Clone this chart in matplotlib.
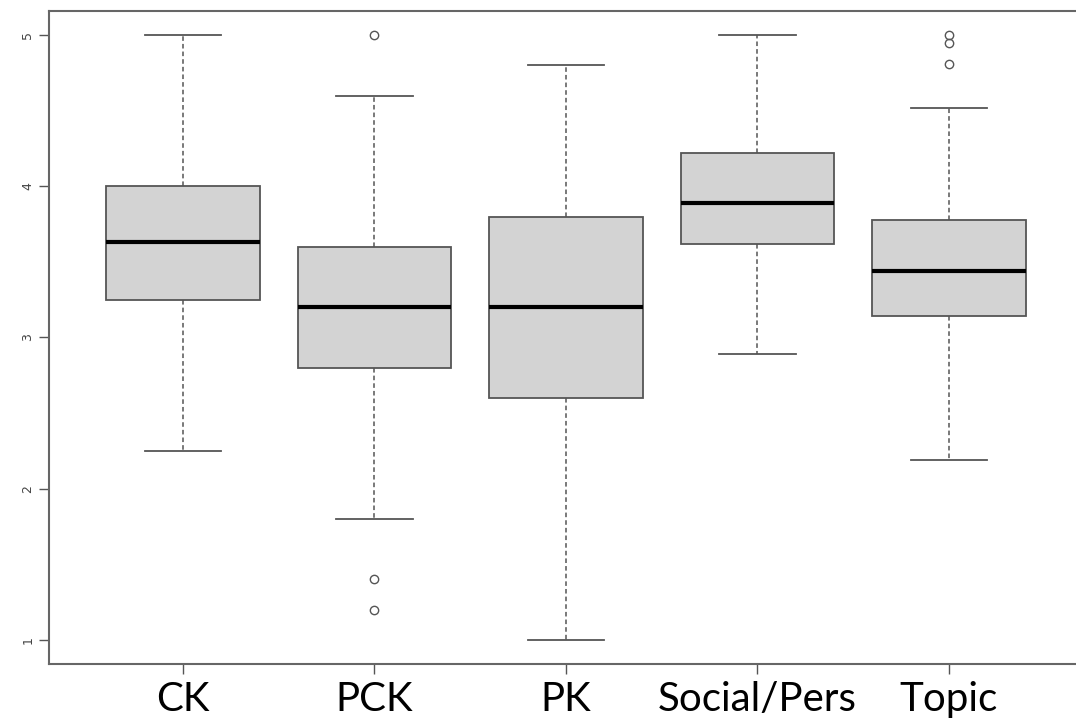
import matplotlib
matplotlib.use('Agg')
import matplotlib.pyplot as plt

categories = ['CK', 'PCK', 'PK', 'Social/Pers', 'Topic']
whislo = [2.25, 1.8, 1.0, 2.89, 2.19]
q1 = [3.25, 2.8, 2.6, 3.62, 3.14]
med = [3.63, 3.2, 3.2, 3.89, 3.44]
q3 = [4.0, 3.6, 3.8, 4.22, 3.78]
whishi = [5.0, 4.6, 4.8, 5.0, 4.52]
fliers = [[], [5.0, 1.4, 1.2], [], [], [5.0, 4.95, 4.81]]

stats = []
for i, name in enumerate(categories):
    stats.append(dict(label=name, whislo=whislo[i], q1=q1[i], med=med[i],
                      q3=q3[i], whishi=whishi[i], fliers=fliers[i]))

fig = plt.figure(figsize=(10.76, 7.22), dpi=100)
ax = fig.add_axes([0.0455, 0.0803, 0.961, 0.9045])

edge = '#555555'
ax.bxp(stats, positions=range(1, 6), widths=0.8, patch_artist=True,
       boxprops=dict(facecolor='#d3d3d3', edgecolor=edge, linewidth=1.3),
       medianprops=dict(color='black', linewidth=3),
       whiskerprops=dict(color=edge, linestyle=(0, (3, 2)), linewidth=1.1),
       capprops=dict(color=edge, linewidth=1.3),
       capwidths=0.4,
       flierprops=dict(marker='o', markersize=6, markerfacecolor='none',
                       markeredgecolor=edge, markeredgewidth=1.0))

ax.set_xlim(0.3, 5.7)
ax.set_ylim(0.84, 5.16)
ax.set_yticks([1, 2, 3, 4, 5])
ax.set_yticklabels(['1', '2', '3', '4', '5'], rotation=90, va='center',
                   fontsize=9, color='#444444')
ax.set_xticks(range(1, 6))
ax.set_xticklabels(categories, fontsize=29, family=['Lato', 'DejaVu Sans'])
ax.tick_params(axis='both', color=edge, length=7, width=1)
ax.tick_params(axis='x', pad=5)
for s in ax.spines.values():
    s.set_color('#666666')
    s.set_linewidth(1.5)

fig.savefig('out.png', dpi=100)
